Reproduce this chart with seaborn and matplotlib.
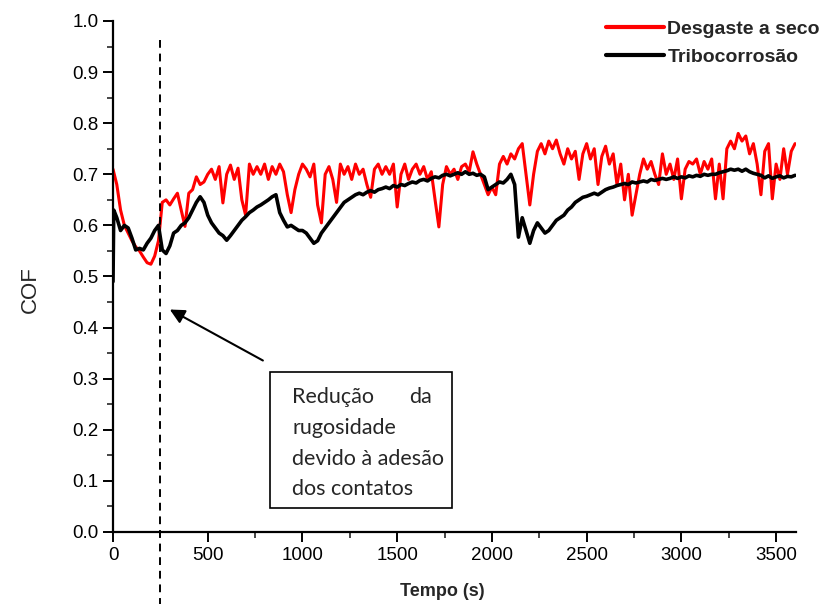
import numpy as np
import pandas as pd
import matplotlib
matplotlib.use("Agg")
import matplotlib.pyplot as plt
from matplotlib.patches import Rectangle
from matplotlib.ticker import MultipleLocator
import seaborn as sns

tempo_seco = list(range(0, 3601, 20))
cof_seco = [
    0.71, 0.68, 0.63, 0.60, 0.585, 0.57, 0.558, 0.55, 0.538, 0.527,
    0.524, 0.54, 0.57, 0.645, 0.65, 0.64, 0.652, 0.663, 0.63, 0.598,
    0.663, 0.67, 0.695, 0.68, 0.685, 0.70, 0.71, 0.69, 0.715, 0.644,
    0.70, 0.718, 0.69, 0.712, 0.65, 0.62, 0.72, 0.70, 0.715, 0.70,
    0.72, 0.69, 0.715, 0.70, 0.72, 0.705, 0.66, 0.625, 0.67, 0.70,
    0.72, 0.71, 0.695, 0.72, 0.64, 0.605, 0.70, 0.715, 0.69, 0.645,
    0.72, 0.70, 0.715, 0.69, 0.72, 0.70, 0.71, 0.68, 0.655, 0.71,
    0.72, 0.70, 0.715, 0.70, 0.72, 0.636, 0.70, 0.72, 0.69, 0.71,
    0.72, 0.70, 0.715, 0.69, 0.705, 0.65, 0.597, 0.68, 0.715, 0.70,
    0.71, 0.69, 0.715, 0.72, 0.705, 0.744, 0.72, 0.70, 0.68, 0.66,
    0.675, 0.66, 0.72, 0.735, 0.72, 0.74, 0.73, 0.75, 0.76, 0.70,
    0.64, 0.70, 0.745, 0.76, 0.74, 0.765, 0.75, 0.767, 0.74, 0.72,
    0.75, 0.73, 0.745, 0.69, 0.74, 0.76, 0.73, 0.75, 0.68, 0.735,
    0.755, 0.72, 0.74, 0.68, 0.72, 0.65, 0.70, 0.62, 0.66, 0.70,
    0.73, 0.71, 0.725, 0.70, 0.68, 0.74, 0.70, 0.72, 0.69, 0.73,
    0.652, 0.71, 0.725, 0.72, 0.73, 0.70, 0.725, 0.71, 0.73, 0.652,
    0.72, 0.652, 0.75, 0.765, 0.75, 0.78, 0.765, 0.775, 0.74, 0.76,
    0.72, 0.66, 0.745, 0.76, 0.652, 0.72, 0.69, 0.75, 0.70, 0.745,
    0.76,
]

tempo_tribo = [0, 4] + list(range(20, 3601, 20))
cof_tribo = [
    0.49, 0.63,
    0.615, 0.59, 0.60, 0.595, 0.575, 0.552, 0.555, 0.552, 0.565,
    0.575, 0.59, 0.60, 0.552, 0.545, 0.56, 0.585, 0.59, 0.60, 0.605,
    0.615, 0.63, 0.645, 0.656, 0.645, 0.62, 0.605, 0.595, 0.585, 0.58,
    0.571, 0.58, 0.59, 0.60, 0.61, 0.617, 0.625, 0.63, 0.636, 0.64,
    0.645, 0.65, 0.656, 0.66, 0.625, 0.61, 0.597, 0.60, 0.595, 0.59,
    0.59, 0.585, 0.575, 0.565, 0.57, 0.585, 0.595, 0.605, 0.615, 0.625,
    0.635, 0.645, 0.65, 0.655, 0.66, 0.663, 0.66, 0.665, 0.668, 0.665,
    0.67, 0.672, 0.675, 0.672, 0.678, 0.675, 0.68, 0.678, 0.682, 0.685,
    0.683, 0.688, 0.69, 0.687, 0.692, 0.695, 0.693, 0.698, 0.70, 0.697,
    0.70, 0.703, 0.70, 0.705, 0.70, 0.702, 0.698, 0.70, 0.695, 0.67,
    0.675, 0.68, 0.685, 0.683, 0.69, 0.70, 0.68, 0.577, 0.615, 0.59,
    0.565, 0.59, 0.605, 0.595, 0.585, 0.59, 0.60, 0.61, 0.615, 0.62,
    0.63, 0.636, 0.645, 0.65, 0.655, 0.657, 0.66, 0.663, 0.66, 0.665,
    0.67, 0.673, 0.675, 0.678, 0.68, 0.682, 0.68, 0.685, 0.683, 0.685,
    0.687, 0.685, 0.69, 0.688, 0.69, 0.692, 0.69, 0.692, 0.695, 0.692,
    0.695, 0.693, 0.697, 0.695, 0.698, 0.696, 0.70, 0.698, 0.70, 0.70,
    0.703, 0.705, 0.707, 0.71, 0.708, 0.71, 0.706, 0.71, 0.705, 0.702,
    0.70, 0.698, 0.693, 0.697, 0.692, 0.695, 0.697, 0.693, 0.696, 0.695,
    0.698,
]

series = ["Desgaste a seco", "Tribocorrosão"]
cores = {"Desgaste a seco": "#ff0000", "Tribocorrosão": "#000000"}
t_marcador = 250  # linha tracejada

df = pd.concat([
    pd.DataFrame({"Tempo": tempo_seco, "COF": cof_seco, "serie": series[0]}),
    pd.DataFrame({"Tempo": tempo_tribo, "COF": cof_tribo, "serie": series[1]}),
])

sns.set_style("ticks")
plt.rcParams["font.family"] = ["Liberation Sans", "DejaVu Sans"]

W, H = 821, 604
fig = plt.figure(figsize=(W / 100, H / 100), dpi=100)
ax = fig.add_axes([113 / W, 1 - 532 / H, (796 - 113) / W, (532 - 21) / H])

for s, lw in zip(series, [2.2, 2.6]):
    sns.lineplot(data=df[df.serie == s], x="Tempo", y="COF", color=cores[s],
                 linewidth=lw, estimator=None, sort=False, label=s, ax=ax)

ax.set_xlim(0, 3605)
ax.set_ylim(0, 1.0)
ax.xaxis.set_major_locator(MultipleLocator(500))
ax.xaxis.set_minor_locator(MultipleLocator(250))
ax.yaxis.set_major_locator(MultipleLocator(0.1))
ax.yaxis.set_minor_locator(MultipleLocator(0.05))
ax.yaxis.set_major_formatter(matplotlib.ticker.FormatStrFormatter("%.1f"))
ax.tick_params(which="major", direction="out", length=7, width=1.4, labelsize=13.5, colors="black")
ax.tick_params(which="minor", direction="out", length=4, width=1.2)
for sp in ["top", "right"]:
    ax.spines[sp].set_visible(False)
for sp in ["left", "bottom"]:
    ax.spines[sp].set_linewidth(1.6)
    ax.spines[sp].set_color("black")

ax.set_xlabel("Tempo (s)", fontsize=13, fontweight="bold")
ax.xaxis.set_label_coords(0.482, -0.100)
ax.set_ylabel("COF", fontsize=16)
ax.yaxis.set_label_coords(-0.106, 0.474)

# linha tracejada vertical, passa abaixo do eixo
ax.plot([t_marcador, t_marcador], [0.963, -0.145], color="black", lw=1.4,
        ls=(0, (4, 3)), clip_on=False)

ax.annotate("", xy=(287, 0.438), xytext=(804, 0.333),
            arrowprops=dict(arrowstyle="-|>", color="black", lw=1.5, mutation_scale=22))

# caixa de texto
fig.patches.append(Rectangle((270 / W, 1 - 508 / H), 182 / W, 136 / H,
                             transform=fig.transFigure, fill=True, facecolor="white",
                             edgecolor="black", lw=1.2))
fonte_caixa = dict(fontsize=15.5, family=["Lato", "DejaVu Sans"], va="center")
fig.text(292 / W, 1 - 397 / H, "Redução", ha="left", **fonte_caixa)
fig.text(432 / W, 1 - 397 / H, "da", ha="right", **fonte_caixa)
fig.text(292 / W, 1 - 428 / H, "rugosidade", ha="left", **fonte_caixa)
fig.text(292 / W, 1 - 459 / H, "devido à adesão", ha="left", **fonte_caixa)
fig.text(292 / W, 1 - 489 / H, "dos contatos", ha="left", **fonte_caixa)

handles, labels = ax.get_legend_handles_labels()
ax.get_legend().remove()
leg = fig.legend(handles, labels, loc="upper left", bbox_to_anchor=(606 / W, 1 - 20 / H),
                 bbox_transform=fig.transFigure, frameon=False, borderpad=0,
                 borderaxespad=0, handlelength=3.0, handletextpad=0.15,
                 labelspacing=0.55, prop=dict(size=14, weight="bold"))
for h in leg.get_lines():
    h.set_linewidth(3)

fig.savefig("out.png", dpi=100)
